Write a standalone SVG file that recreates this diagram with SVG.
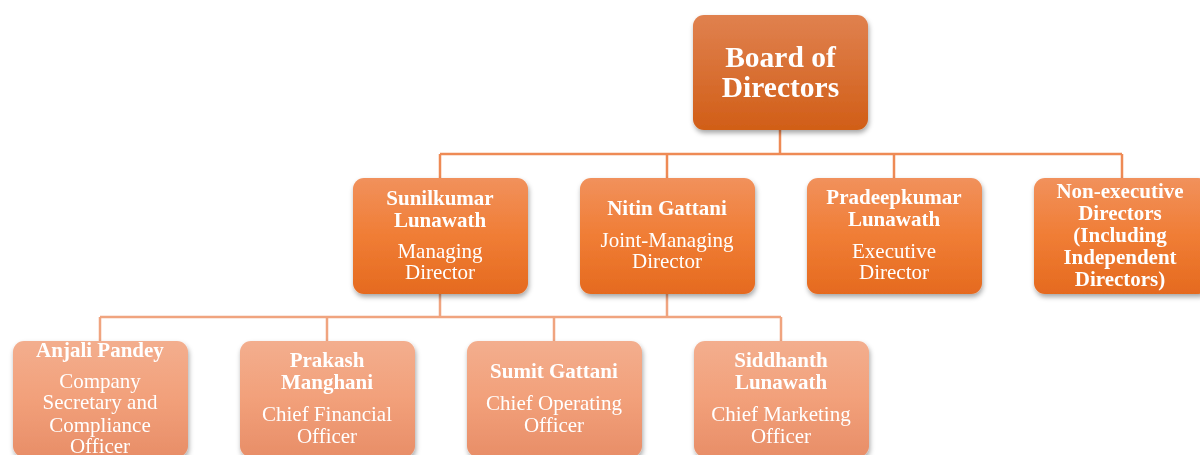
<svg xmlns="http://www.w3.org/2000/svg" width="1200" height="455" viewBox="0 0 1200 455">
<defs>
<linearGradient id="g1" x1="0" y1="0" x2="0" y2="1"><stop offset="0" stop-color="#e0814f"/><stop offset="1" stop-color="#d15e17"/></linearGradient>
<linearGradient id="g2" x1="0" y1="0" x2="0" y2="1"><stop offset="0" stop-color="#f1915c"/><stop offset="0.5" stop-color="#f07d35"/><stop offset="1" stop-color="#e56a1f"/></linearGradient>
<linearGradient id="g3" x1="0" y1="0" x2="0" y2="1"><stop offset="0" stop-color="#f3ae8e"/><stop offset="0.5" stop-color="#f2a07a"/><stop offset="1" stop-color="#e88e68"/></linearGradient>
<filter id="sh" x="-10%" y="-10%" width="125%" height="130%"><feDropShadow dx="1" dy="3" stdDeviation="2.5" flood-color="#000" flood-opacity="0.35"/></filter>
</defs>
<style>
text{font-family:"Liberation Serif","Times New Roman",serif;fill:#fff;text-anchor:middle}
.b{font-weight:bold;font-size:21px}
.r{font-size:21px}
.t{font-weight:bold;font-size:29.5px}
.c1{stroke:#ee8a55;stroke-width:2.5;fill:none}
.c2{stroke:#f0a47f;stroke-width:2.5;fill:none}
</style>
<g id="connectors">
<path class="c1" d="M780 130V154M440 154H1122M440 154V178M667 154V178M894 154V178M1122 154V178"/>
<path class="c2" d="M440 294V317M667 294V317M100 317H781M100 317V341M327 317V341M554 317V341M781 317V341"/>
</g>
<g id="board" filter="url(#sh)"><rect x="693" y="15" width="175" height="115" rx="11" fill="url(#g1)"/>
<text class="t" x="780.5" y="67">Board of</text><text class="t" x="780.5" y="97">Directors</text></g>
<g id="sunilkumar" filter="url(#sh)"><rect x="353" y="178" width="175" height="116" rx="11" fill="url(#g2)"/>
<text class="b" x="440" y="205">Sunilkumar</text><text class="b" x="440" y="227">Lunawath</text>
<text class="r" x="440" y="258">Managing</text><text class="r" x="440" y="279">Director</text></g>
<g id="nitin" filter="url(#sh)"><rect x="580" y="178" width="175" height="116" rx="11" fill="url(#g2)"/>
<text class="b" x="667" y="215">Nitin Gattani</text>
<text class="r" x="667" y="247">Joint-Managing</text><text class="r" x="667" y="268">Director</text></g>
<g id="pradeep" filter="url(#sh)"><rect x="807" y="178" width="175" height="116" rx="11" fill="url(#g2)"/>
<text class="b" x="894" y="204">Pradeepkumar</text><text class="b" x="894" y="226">Lunawath</text>
<text class="r" x="894" y="258">Executive</text><text class="r" x="894" y="279">Director</text></g>
<g id="nonexec" filter="url(#sh)"><rect x="1034" y="178" width="175" height="116" rx="11" fill="url(#g2)"/>
<text class="b" x="1120" y="198">Non-executive</text><text class="b" x="1120" y="220">Directors</text>
<text class="b" x="1120" y="242">(Including</text><text class="b" x="1120" y="264">Independent</text><text class="b" x="1120" y="286">Directors)</text></g>
<g id="anjali" filter="url(#sh)"><rect x="13" y="341" width="175" height="116" rx="11" fill="url(#g3)"/>
<text class="b" x="100" y="357">Anjali Pandey</text>
<text class="r" x="100" y="388">Company</text><text class="r" x="100" y="409">Secretary and</text>
<text class="r" x="100" y="432">Compliance</text><text class="r" x="100" y="453">Officer</text></g>
<g id="prakash" filter="url(#sh)"><rect x="240" y="341" width="175" height="116" rx="11" fill="url(#g3)"/>
<text class="b" x="327" y="367">Prakash</text><text class="b" x="327" y="389">Manghani</text>
<text class="r" x="327" y="421">Chief Financial</text><text class="r" x="327" y="443">Officer</text></g>
<g id="sumit" filter="url(#sh)"><rect x="467" y="341" width="175" height="116" rx="11" fill="url(#g3)"/>
<text class="b" x="554" y="378">Sumit Gattani</text>
<text class="r" x="554" y="410">Chief Operating</text><text class="r" x="554" y="432">Officer</text></g>
<g id="siddhanth" filter="url(#sh)"><rect x="694" y="341" width="175" height="116" rx="11" fill="url(#g3)"/>
<text class="b" x="781" y="367">Siddhanth</text><text class="b" x="781" y="389">Lunawath</text>
<text class="r" x="781" y="421">Chief Marketing</text><text class="r" x="781" y="443">Officer</text></g>
</svg>
